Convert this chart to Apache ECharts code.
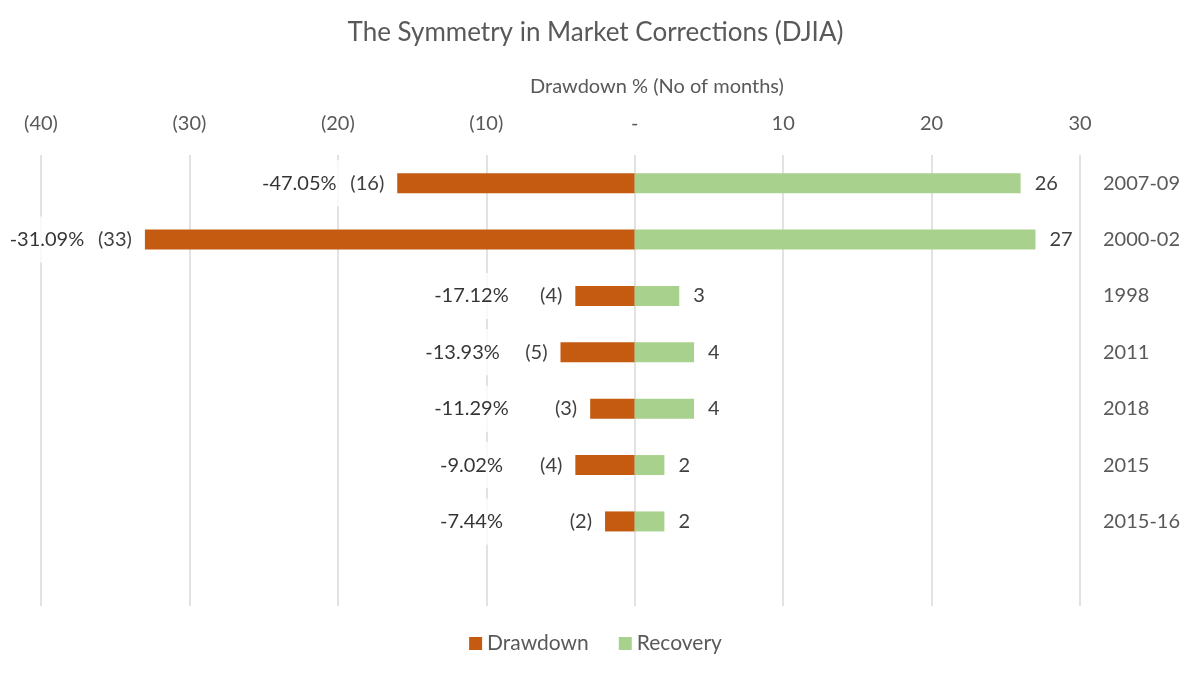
<!DOCTYPE html>
<html>
<head>
<meta charset="utf-8">
<script src="https://cdn.jsdelivr.net/npm/echarts@6/dist/echarts.min.js"></script>
<style>
html,body{margin:0;padding:0;background:#fff;}
#c{width:1191px;height:678px;}
</style>
</head>
<body>
<div id="c"></div>
<script>
var categories = ['2007-09', '2000-02', '1998', '2011', '2018', '2015', '2015-16', ''];
var drawdownMonths = [-16, -33, -4, -5, -3, -4, -2, null];
var recoveryMonths = [26, 27, 3, 4, 4, 2, 2, null];
var drawdownPct = ['-47.05%', '-31.09%', '-17.12%', '-13.93%', '-11.29%', '-9.02%', '-7.44%', null];
var xTicks = { min: -40, max: 30, interval: 10 };

var FONT = 'Lato';
var pctData = [];
for (var i = 0; i < categories.length; i++) {
  if (drawdownMonths[i] == null) continue;
  var x = Math.min(drawdownMonths[i] - 6.6, -11);
  pctData.push({ value: [x, categories[i]], pct: drawdownPct[i] });
}

var chart = echarts.init(document.getElementById('c'));
chart.setOption({
  animation: false,
  textStyle: { fontFamily: FONT },
  title: [
    { text: 'The Symmetry in Market Corrections (DJIA)', left: 'center', top: 15,
      textStyle: { fontFamily: FONT, fontSize: 26, fontWeight: 'normal', color: '#595959' } },
    { text: 'Drawdown % (No of months)', left: 652, textAlign: 'center', top: 72,
      textStyle: { fontFamily: FONT, fontSize: 20, fontWeight: 'normal', color: '#595959' } }
  ],
  legend: {
    bottom: 19, left: 'center', itemWidth: 13, itemHeight: 13, itemGap: 30,
    icon: 'rect',
    data: ['Drawdown', 'Recovery'],
    textStyle: { fontFamily: FONT, fontSize: 21, color: '#595959' }
  },
  grid: { left: 41, right: 111, top: 155, bottom: 72, containLabel: false },
  xAxis: {
    type: 'value', position: 'top', min: xTicks.min, max: xTicks.max, interval: xTicks.interval,
    axisLine: { show: false }, axisTick: { show: false },
    splitLine: { lineStyle: { color: '#d9d9d9', width: 1.5 } },
    axisLabel: {
      margin: 21, fontFamily: FONT, fontSize: 20, color: '#595959',
      formatter: function (v) { return v < 0 ? '(' + (-v) + ')' : (v === 0 ? '-' : String(v)); }
    }
  },
  yAxis: {
    type: 'category', data: categories, inverse: true, position: 'right',
    axisLine: { show: false }, axisTick: { show: false },
    axisLabel: { margin: 23, fontFamily: FONT, fontSize: 20, color: '#595959' }
  },
  series: [
    {
      name: 'pct', type: 'scatter', symbolSize: 0, z: 1, silent: true,
      data: pctData,
      label: {
        show: true, position: 'inside', fontFamily: FONT, fontSize: 20, color: '#000',
        backgroundColor: '#fff', padding: [13, 3],
        formatter: function (p) { return p.data.pct; }
      }
    },
    {
      name: 'Drawdown', type: 'bar', data: drawdownMonths, barWidth: 20, barGap: '-100%', z: 3,
      itemStyle: { color: '#C55A11' },
      label: {
        show: true, position: 'left', distance: 13, fontFamily: FONT, fontSize: 20, color: '#404040',
        formatter: function (p) { return '(' + (-p.value) + ')'; }
      }
    },
    {
      name: 'Recovery', type: 'bar', data: recoveryMonths, barWidth: 20, z: 3,
      itemStyle: { color: '#A9D18E' },
      label: {
        show: true, position: 'right', distance: 14, fontFamily: FONT, fontSize: 20, color: '#404040'
      }
    }
  ]
});
</script>
</body>
</html>
